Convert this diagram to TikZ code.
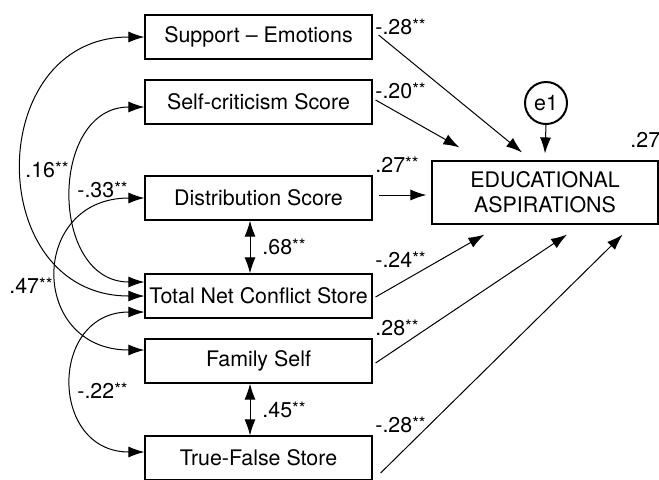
\documentclass[tikz,border=0pt]{standalone}
\usepackage{fontspec}
\setmainfont{TeX Gyre Heros}
\usetikzlibrary{arrows.meta}
\newcommand{\sig}{\raisebox{0.12em}{\fontsize{8.6}{9}\selectfont**}}
\tikzset{
	varbox/.style={draw,line width=0.6pt,minimum width=113.5pt,minimum height=22pt,inner sep=0pt},
	tip/.tip={Latex[length=8pt,width=5.5pt]},
	corr/.style={tip-tip,line width=0.5pt},
	effect/.style={-tip,line width=0.5pt},
	coef/.style={inner sep=0pt,anchor=base west}
}
\begin{document}
\begin{tikzpicture}[x=0.5pt,y=-0.5pt,font=\fontsize{10.7}{12.5}\selectfont]
		\useasboundingbox (0,0) rectangle (659,479);
		\foreach \y/\n/\t in {37/se/Support -- Emotions, 102/sc/Self-criticism Score, 198/ds/Distribution Score, 296/tn/Total Net Conflict Store, 361/fs/Family Self, 458/tf/True-False Store}{
			\node[varbox] (\n) at (258.5,\y) {\t};
		}
		\node[draw,line width=0.6pt,minimum width=113pt,minimum height=31.5pt,align=center,inner sep=0pt] (edu) at (545,192.5) {EDUCATIONAL\\ASPIRATIONS};
		\node[draw,circle,line width=1pt,minimum size=21pt,inner sep=0pt] (e1) at (546,103) {e1};
		\draw[effect] (e1.south) -- ([yshift=3.5pt]edu.north);
		\draw[effect] ([shift={(3pt,1pt)}]se.east) -- ([shift={(-11.5pt,4pt)}]edu.north);
		\draw[effect] ([shift={(1.5pt,1pt)}]sc.east) -- ([shift={(14pt,6.5pt)}]edu.north west);
		\draw[effect] ([shift={(3pt,1.5pt)}]ds.east) -- ([shift={(-2.5pt,-1.25pt)}]edu.west);
		\draw[effect] ([shift={(1.5pt,-0.5pt)}]tn.east) -- ([shift={(26.5pt,-5pt)}]edu.south west);
		\draw[effect] ([shift={(1.5pt,-1pt)}]fs.east) -- ([shift={(11pt,-5pt)}]edu.south);
		\draw[effect] ([shift={(4pt,-7.5pt)}]tf.east) -- ([shift={(-18pt,-5pt)}]edu.south east);
		\draw[corr] ([xshift=-4.25pt]ds.south) -- ([xshift=-4.25pt]tn.north);
		\draw[corr] ([xshift=-4.25pt]fs.south) -- ([xshift=-4.25pt]tf.north);
		\draw[corr] (se.west) to[out=180,in=180,looseness=1.6] (tn.west);
		\draw[corr] ([yshift=-2.5pt]sc.west) to[out=180,in=180,looseness=1.4] ([yshift=7pt]tn.west);
		\draw[corr] (ds.west) to[out=180,in=180,looseness=1.95] ([yshift=5.5pt]fs.west);
		\draw[corr] ([yshift=-8pt]tn.west) to[out=180,in=180,looseness=1.75] ([yshift=3pt]tf.west);
		\foreach \x/\y/\t in {375/34/-.28, 375/98/-.20, 375/172/.27, 375/267/-.24, 375/335/.28, 375/432/-.28, 262/254/.68, 262/417/.45, 25/177/.16, 77/197/-.33, 9/293/.47, 77/398/-.22}{
			\node[coef] at (\x,\y) {\t\sig};
		}
		\node[coef] (rsq) at (630,147) {.27};
	\end{tikzpicture}
\end{document}
